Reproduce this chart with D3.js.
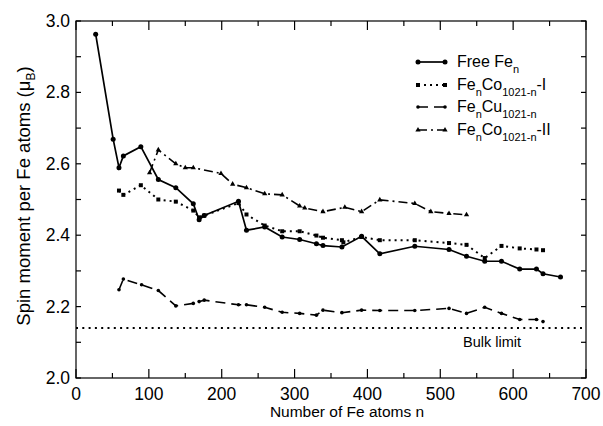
<!DOCTYPE html>
<html><head><meta charset="utf-8">
<script src="https://cdn.jsdelivr.net/npm/d3@7"></script>
<style>body{margin:0;background:#fff}svg{font-family:"Liberation Sans",Arial,Helvetica,sans-serif}</style>
</head><body>
<svg id="c" width="603" height="426"></svg>
<script>
const freeN = [27, 51, 59, 65, 89, 113, 137, 161, 169, 176, 223, 234, 259, 283, 307, 330, 339, 365, 392, 417, 465, 512, 536, 561, 584, 609, 632, 641, 665];
const freeV = [2.963, 2.669, 2.589, 2.622, 2.648, 2.556, 2.533, 2.488, 2.443, 2.455, 2.495, 2.414, 2.423, 2.395, 2.388, 2.376, 2.371, 2.367, 2.397, 2.348, 2.369, 2.36, 2.341, 2.327, 2.327, 2.305, 2.305, 2.292, 2.283];
const coIN = [59, 65, 89, 113, 137, 161, 169, 176, 223, 234, 259, 283, 307, 330, 339, 365, 367, 392, 417, 465, 512, 536, 561, 584, 609, 632, 641];
const coIV = [2.525, 2.513, 2.54, 2.50, 2.494, 2.469, 2.45, 2.455, 2.49, 2.458, 2.427, 2.411, 2.411, 2.399, 2.393, 2.386, 2.38, 2.395, 2.386, 2.386, 2.378, 2.373, 2.336, 2.37, 2.363, 2.36, 2.358];
const cuN = [59, 65, 90, 113, 137, 161, 169, 176, 223, 234, 259, 283, 307, 330, 339, 365, 392, 417, 465, 512, 536, 561, 584, 609, 632, 641];
const cuV = [2.247, 2.277, 2.261, 2.245, 2.202, 2.209, 2.214, 2.218, 2.205, 2.205, 2.198, 2.184, 2.181, 2.176, 2.19, 2.183, 2.19, 2.189, 2.189, 2.195, 2.181, 2.198, 2.181, 2.164, 2.164, 2.158];
const coIIN = [101, 113, 137, 150, 161, 199, 215, 234, 259, 283, 307, 314, 339, 369, 392, 417, 465, 487, 512, 536];
const coIIV = [2.575, 2.639, 2.60, 2.589, 2.589, 2.573, 2.543, 2.533, 2.516, 2.513, 2.482, 2.476, 2.466, 2.478, 2.466, 2.499, 2.489, 2.466, 2.461, 2.457];
const bulkLimit = 2.14;
const xTicks = [0, 100, 200, 300, 400, 500, 600, 700];
const yTicks = [2.0, 2.2, 2.4, 2.6, 2.8, 3.0];

const svg = d3.select("#c");
const L = 76, R = 586, T = 21, B = 378;
const x = d3.scaleLinear().domain([0, 700]).range([L, R]);
const y = d3.scaleLinear().domain([2.0, 3.0]).range([B, T]);

svg.append("rect").attr("x", L).attr("y", T).attr("width", R - L).attr("height", B - T)
  .attr("fill", "none").attr("stroke", "#000").attr("stroke-width", 1.2);

const minorX = d3.range(0, 701, 50);
const minorY = d3.range(0, 11).map(i => 2 + i * 0.1);
const tk = svg.append("g").attr("stroke", "#000").attr("stroke-width", 1.2);
minorX.forEach(v => {
  const len = v % 100 === 0 ? 9 : 5;
  tk.append("line").attr("x1", x(v)).attr("x2", x(v)).attr("y1", B).attr("y2", B - len);
  tk.append("line").attr("x1", x(v)).attr("x2", x(v)).attr("y1", T).attr("y2", T + len);
});
minorY.forEach(v => {
  tk.append("line").attr("y1", y(v)).attr("y2", y(v)).attr("x1", L).attr("x2", L + 5);
  tk.append("line").attr("y1", y(v)).attr("y2", y(v)).attr("x1", R).attr("x2", R - 5);
});

svg.append("g").selectAll("text").data(xTicks).join("text")
  .attr("x", d => x(d)).attr("y", 400).attr("text-anchor", "middle")
  .attr("font-size", 17.5).text(d => d);
svg.append("g").selectAll("text").data(yTicks).join("text")
  .attr("x", 70).attr("y", d => y(d) + 6).attr("text-anchor", "end")
  .attr("font-size", 17.5).text(d => d.toFixed(1));

svg.append("text").attr("x", 347).attr("y", 417).attr("text-anchor", "middle")
  .attr("font-size", 15.5).text("Number of Fe atoms n");

const yt = svg.append("text").attr("transform", "translate(30,196) rotate(-90)")
  .attr("text-anchor", "middle").attr("font-size", 18.5);
yt.append("tspan").text("Spin moment per Fe atoms (\u03bc");
yt.append("tspan").attr("font-size", 12).attr("dy", 5).text("B");
yt.append("tspan").attr("dy", -5).text(")");

svg.append("line").attr("x1", L).attr("x2", R).attr("y1", y(bulkLimit)).attr("y2", y(bulkLimit))
  .attr("stroke", "#000").attr("stroke-width", 2).attr("stroke-dasharray", "2,4.3");
svg.append("text").attr("x", 463).attr("y", 347).attr("font-size", 14.5).text("Bulk limit");

const series = [
  {n: freeN, v: freeV, dash: null, w: 1.7, m: "circle"},
  {n: coIN, v: coIV, dash: "2,4", w: 2, m: "square"},
  {n: cuN, v: cuV, dash: "10,6", w: 1.6, m: "dot"},
  {n: coIIN, v: coIIV, dash: "9,4,2,4", w: 1.6, m: "tri"}
];
const line = d3.line().x(d => x(d[0])).y(d => y(d[1]));
function marker(g, px, py, m) {
  if (m === "circle") g.append("circle").attr("cx", px).attr("cy", py).attr("r", 2.5);
  else if (m === "square") g.append("rect").attr("x", px - 2).attr("y", py - 2).attr("width", 4).attr("height", 4);
  else if (m === "dot") g.append("circle").attr("cx", px).attr("cy", py).attr("r", 1.8);
  else g.append("path").attr("d", d3.symbol(d3.symbolTriangle, 12)()).attr("transform", `translate(${px},${py})`);
}
series.forEach(s => {
  const pts = s.n.map((n, i) => [n, s.v[i]]);
  svg.append("path").datum(pts).attr("d", line).attr("fill", "none").attr("stroke", "#000")
    .attr("stroke-width", s.w).attr("stroke-dasharray", s.dash);
  const g = svg.append("g").attr("fill", "#000");
  pts.forEach(p => marker(g, x(p[0]), y(p[1]), s.m));
});

const legRows = [62, 85, 107, 130];
const leg = svg.append("g");
series.forEach((s, i) => {
  const ly = legRows[i];
  leg.append("line").attr("x1", 418).attr("x2", 445).attr("y1", ly).attr("y2", ly)
    .attr("stroke", "#000").attr("stroke-width", s.w).attr("stroke-dasharray", s.dash);
  const g = leg.append("g").attr("fill", "#000");
  marker(g, 418, ly, s.m); marker(g, 445, ly, s.m);
});
function legText(ly, parts) {
  const t = leg.append("text").attr("x", 457).attr("y", ly + 5).attr("font-size", 16);
  let sub = false;
  parts.forEach(p => {
    const ts = t.append("tspan").text(p[0]);
    if (p[1] && !sub) { ts.attr("font-size", 11).attr("dy", 6); sub = true; }
    else if (!p[1] && sub) { ts.attr("dy", -6); sub = false; }
  });
}
legText(62, [["Free Fe", 0], ["n", 1]]);
legText(85, [["Fe", 0], ["n", 1], ["Co", 0], ["1021-n", 1], ["-I", 0]]);
legText(107, [["Fe", 0], ["n", 1], ["Cu", 0], ["1021-n", 1]]);
legText(130, [["Fe", 0], ["n", 1], ["Co", 0], ["1021-n", 1], ["-II", 0]]);
</script>
</body></html>
